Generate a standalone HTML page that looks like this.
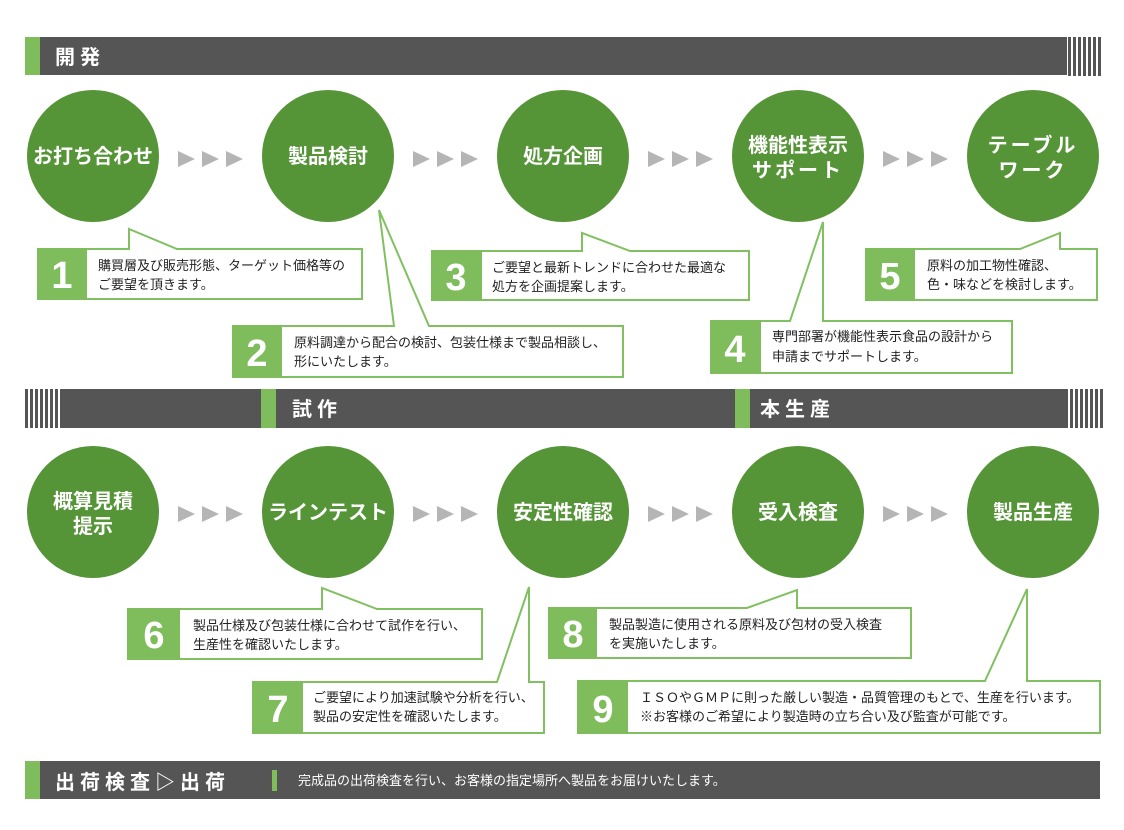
<!DOCTYPE html>
<html><head><meta charset="utf-8"><style>
html,body{margin:0;padding:0;background:#fff;}
svg{display:block;}
.c{font-family:"Liberation Sans","Noto Sans CJK JP",sans-serif;font-weight:bold;fill:#fff;font-size:20px;text-anchor:middle;}
.t{font-family:"Liberation Sans","Noto Sans CJK JP",sans-serif;fill:#222;font-size:13px;}
.n{font-family:"Liberation Sans",sans-serif;font-weight:bold;fill:#fff;font-size:38px;text-anchor:middle;}
.h{font-family:"Liberation Sans","Noto Sans CJK JP",sans-serif;font-weight:bold;fill:#fff;font-size:20px;letter-spacing:5px;}
</style></head><body>
<svg width="1124" height="830" viewBox="0 0 1124 830" xmlns="http://www.w3.org/2000/svg">
<defs>
<g id="stripes"><rect x="0" y="0" width="3" height="39" fill="#555"/><rect x="5" y="0" width="3" height="39" fill="#555"/><rect x="10" y="0" width="3" height="39" fill="#555"/><rect x="15" y="0" width="3" height="39" fill="#555"/><rect x="20" y="0" width="3" height="39" fill="#555"/><rect x="25" y="0" width="3" height="39" fill="#555"/><rect x="30" y="0" width="3" height="39" fill="#555"/></g>
<g id="arr" fill="#b5b5b5"><polygon points="0,0 17,8 0,16"/><polygon points="24,0 41,8 24,16"/><polygon points="48,0 65,8 48,16"/></g>
</defs>
<rect x="25" y="37" width="1042" height="38" fill="#555"/>
<rect x="25" y="37" width="15" height="38" fill="#7fbd5c"/>
<use href="#stripes" x="1068" y="37"/>
<text class="h" x="55" y="64">開発</text>

<g fill="#569438">
<circle cx="93" cy="156" r="66"/><circle cx="328" cy="156" r="66"/><circle cx="563" cy="156" r="66"/><circle cx="798" cy="156" r="66"/><circle cx="1033" cy="156" r="66"/>
</g>
<text class="c" x="93" y="163">お打ち合わせ</text>
<text class="c" x="328" y="163">製品検討</text>
<text class="c" x="563" y="163">処方企画</text>
<text class="c" x="798" y="152">機能性表示</text>
<text class="c" x="798" y="177" letter-spacing="3">サポート</text>
<text class="c" x="1033" y="152" letter-spacing="3">テーブル</text>
<text class="c" x="1033" y="177" letter-spacing="3">ワーク</text>
<use href="#arr" x="178" y="151"/><use href="#arr" x="413" y="151"/><use href="#arr" x="648" y="151"/><use href="#arr" x="883" y="151"/>

<g fill="#fff" stroke="#80c060" stroke-width="2">
<polygon points="38,249 129,249 129,229 177,249 362,249 362,299 38,299"/>
<polygon points="233,326 394,326 379,210 429,326 623,326 623,377 233,377"/>
<polygon points="432,251 582,251 582,233 630,251 749,251 749,300 432,300"/>
<polygon points="711,321 790,321 823,222 823,321 1012,321 1012,373 711,373"/>
<polygon points="866,249 1020,249 1060,233 1060,249 1097,249 1097,300 866,300"/>
<polygon points="128,609 322,609 322,588 377,609 482,609 482,659 128,659"/>
<polygon points="253,682 497,682 529,587 529,682 544,682 544,733 253,733"/>
<polygon points="549,608 747,608 797,590 797,608 911,608 911,658 549,658"/>
<polygon points="578,681 985,681 1027,589 1027,681 1100,681 1100,733 578,733"/>
</g>
<g fill="#7fbd5c">
<rect x="37" y="248" width="50" height="52"/>
<rect x="232" y="325" width="50" height="53"/>
<rect x="431" y="250" width="51" height="51"/>
<rect x="710" y="320" width="51" height="54"/>
<rect x="865" y="248" width="50" height="53"/>
<rect x="127" y="608" width="53" height="52"/>
<rect x="252" y="681" width="51" height="53"/>
<rect x="548" y="607" width="49" height="52"/>
<rect x="577" y="680" width="51" height="54"/>
</g>
<text class="n" x="62" y="288">1</text>
<text class="n" x="257" y="366">2</text>
<text class="n" x="456" y="290">3</text>
<text class="n" x="735" y="362">4</text>
<text class="n" x="890" y="289">5</text>
<text class="n" x="154" y="648">6</text>
<text class="n" x="278" y="722">7</text>
<text class="n" x="573" y="647">8</text>
<text class="n" x="603" y="722">9</text>

<text class="t" x="98" y="270">購買層及び販売形態、ターゲット価格等の</text>
<text class="t" x="98" y="289">ご要望を頂きます。</text>
<text class="t" x="294" y="347">原料調達から配合の検討、包装仕様まで製品相談し、</text>
<text class="t" x="294" y="366">形にいたします。</text>
<text class="t" x="492" y="272">ご要望と最新トレンドに合わせた最適な</text>
<text class="t" x="492" y="291">処方を企画提案します。</text>
<text class="t" x="772" y="341">専門部署が機能性表示食品の設計から</text>
<text class="t" x="772" y="361">申請までサポートします。</text>
<text class="t" x="927" y="270">原料の加工物性確認、</text>
<text class="t" x="927" y="289">色・味などを検討します。</text>
<text class="t" x="193" y="630">製品仕様及び包装仕様に合わせて試作を行い、</text>
<text class="t" x="193" y="649">生産性を確認いたします。</text>
<text class="t" x="313" y="702">ご要望により加速試験や分析を行い、</text>
<text class="t" x="313" y="721">製品の安定性を確認いたします。</text>
<text class="t" x="609" y="629">製品製造に使用される原料及び包材の受入検査</text>
<text class="t" x="609" y="648">を実施いたします。</text>
<text class="t" x="640" y="702">ＩＳＯやＧＭＰに則った厳しい製造・品質管理のもとで、生産を行います。</text>
<text class="t" x="640" y="721">※お客様のご希望により製造時の立ち合い及び監査が可能です。</text>

<use href="#stripes" x="25" y="389"/>
<rect x="60" y="389" width="1008" height="39" fill="#555"/>
<rect x="261" y="389" width="15" height="39" fill="#7fbd5c"/>
<rect x="735" y="389" width="15" height="39" fill="#7fbd5c"/>
<use href="#stripes" x="1070" y="389"/>
<text class="h" x="292" y="416">試作</text>
<text class="h" x="760" y="416">本生産</text>

<g fill="#569438">
<circle cx="93" cy="512" r="66"/><circle cx="328" cy="512" r="66"/><circle cx="563" cy="512" r="66"/><circle cx="798" cy="512" r="66"/><circle cx="1033" cy="512" r="66"/>
</g>
<text class="c" x="93" y="508">概算見積</text>
<text class="c" x="93" y="533">提示</text>
<text class="c" x="328" y="519">ラインテスト</text>
<text class="c" x="563" y="519">安定性確認</text>
<text class="c" x="798" y="519">受入検査</text>
<text class="c" x="1033" y="519">製品生産</text>
<use href="#arr" x="178" y="506"/><use href="#arr" x="413" y="506"/><use href="#arr" x="648" y="506"/><use href="#arr" x="883" y="506"/>

<rect x="25" y="761" width="1075" height="38" fill="#555"/>
<rect x="25" y="761" width="15" height="38" fill="#7fbd5c"/>
<text class="h" x="55" y="789" font-size="22" letter-spacing="10">出荷検査▷出荷</text>
<rect x="272" y="770" width="5" height="21" fill="#7fbd5c"/>
<text class="t" x="298" y="785" style="fill:#fff">完成品の出荷検査を行い、お客様の指定場所へ製品をお届けいたします。</text>
</svg>
</body></html>
